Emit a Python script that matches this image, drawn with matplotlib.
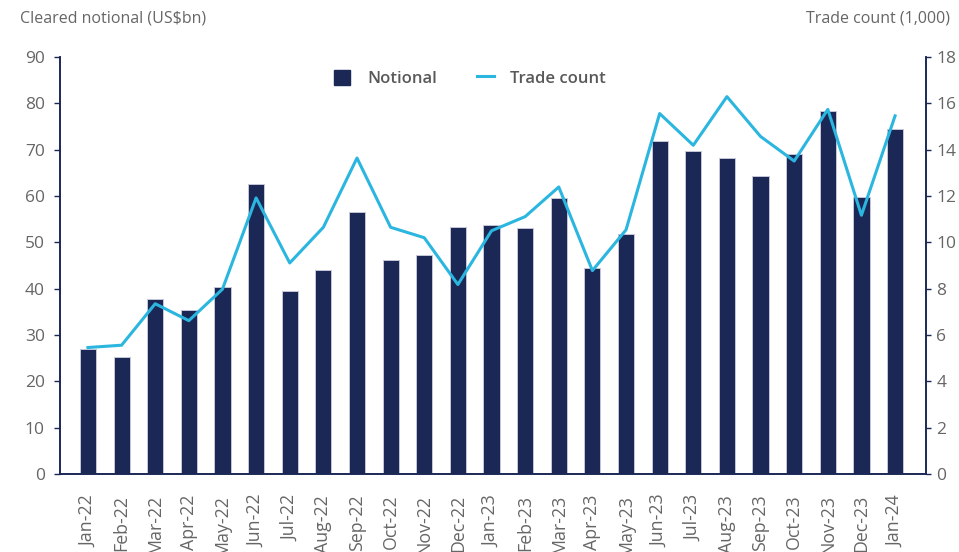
import matplotlib
matplotlib.use('Agg')
import matplotlib.pyplot as plt
import matplotlib.patches as mpatches
from matplotlib.lines import Line2D

plt.rcParams['font.family'] = ['Open Sans', 'DejaVu Sans']

months = ['Jan-22', 'Feb-22', 'Mar-22', 'Apr-22', 'May-22', 'Jun-22', 'Jul-22',
          'Aug-22', 'Sep-22', 'Oct-22', 'Nov-22', 'Dec-22', 'Jan-23', 'Feb-23',
          'Mar-23', 'Apr-23', 'May-23', 'Jun-23', 'Jul-23', 'Aug-23', 'Sep-23',
          'Oct-23', 'Nov-23', 'Dec-23', 'Jan-24']
notional = [26.9, 25.2, 37.7, 35.3, 40.4, 62.5, 39.6, 44.1, 56.6, 46.1, 47.3, 53.3,
            53.7, 53.2, 59.5, 44.5, 51.8, 71.9, 69.8, 68.1, 64.4, 69.0, 78.4, 59.8, 74.4]
trades = [5.46, 5.56, 7.35, 6.62, 7.98, 11.92, 9.11, 10.65, 13.64, 10.65, 10.2, 8.18,
          10.5, 11.11, 12.39, 8.78, 10.54, 15.56, 14.19, 16.29, 14.57, 13.51, 15.74, 11.17, 15.46]

navy = '#1b2856'
cyan = '#2bb6e0'
grey = '#666666'

fig = plt.figure(figsize=(9.59, 5.52), dpi=100)
ax1 = fig.add_axes([0.0626, 0.1413, 0.903, 0.7554])
ax2 = ax1.twinx()

x = list(range(len(months)))
ax1.bar(x, notional, width=0.48, color=navy, edgecolor='#c5c7d8', linewidth=0.7, zorder=2)
ax2.plot(x, trades, color=cyan, linewidth=2.2, zorder=3)

ax1.set_xlim(-0.83, 24.92)
ax1.set_ylim(0, 90)
ax1.set_yticks(range(0, 91, 10))
ax2.set_ylim(0, 18)
ax2.set_yticks(range(0, 19, 2))

ax1.set_xticks(x)
ax1.set_xticklabels(months, rotation=90, fontsize=12.8, color=grey)
ax1.tick_params(axis='x', length=0, pad=15)
ax1.tick_params(axis='y', colors=navy, labelcolor=grey, labelsize=12.5, length=4, width=1, pad=7)
ax2.tick_params(axis='y', colors=navy, labelcolor=grey, labelsize=12.5, length=3.5, width=1, pad=4)

for ax in (ax1, ax2):
    ax.spines['top'].set_visible(False)
    for s in ('left', 'right', 'bottom'):
        ax.spines[s].set_color(navy)
        ax.spines[s].set_linewidth(1.2)

fig.text(0.021, 0.967, 'Cleared notional (US$bn)', fontsize=11.5, color=grey, ha='left', va='center')
fig.text(0.991, 0.967, 'Trade count (1,000)', fontsize=11.5, color=grey, ha='right', va='center')

handles = [mpatches.Patch(color=navy, label='Notional'),
           Line2D([0], [0], color=cyan, linewidth=2.2, label='Trade count')]
leg = fig.legend(handles=handles, loc='center', bbox_to_anchor=(0.49, 0.858), ncol=2,
                 frameon=False, fontsize=12, handlelength=1.0, handleheight=1.0,
                 handletextpad=1.0, columnspacing=2.4)
for t in leg.get_texts():
    t.set_color('#595959')
    t.set_fontweight('semibold')

fig.savefig('out.png', dpi=100)
